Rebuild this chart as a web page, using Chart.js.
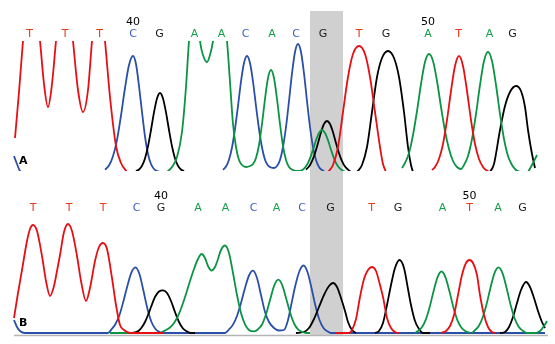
<!DOCTYPE html>
<html><head><meta charset="utf-8">
<script src="https://cdn.jsdelivr.net/npm/chart.js@4/dist/chart.umd.min.js"></script>
<style>
html,body{margin:0;padding:0;background:#fff;}
#wrap{position:relative;width:555px;height:344px;overflow:hidden;background:#fff;}
canvas{position:absolute;left:0;}
#cA{top:0;} #cB{top:175px;}
</style></head><body>
<div id="wrap"><canvas id="cA" width="555" height="175"></canvas><canvas id="cB" width="555" height="169"></canvas></div>
<script>
// ---- data ----
const baseCalls = ['T','T','T','C','G','A','A','C','A','C','G','T','G','A','T','A','G'];
const basePosA = [29.5,65,99.5,133,159.5,194.5,221.5,245.5,272,296,323,359,386,428,458.5,489.5,512.5];
const basePosB = [33,69,103,136.7,161,198,225.5,253.5,276.5,302,330.5,371.7,398,442.5,469.5,498,522.5];
const numberLabels = ['40','50'];
const numberIdxA = [3,13];
const numberIdxB = [4,14];
const highlightRange = [310,343];
const panelNames = ['A','B'];

// panel A traces (x, signal); null = break
const redA = [[15,34],[19,80],[23,131],[27,172],[31,188],[35,172],[40,131],[44,88],[48,65],[52,88],[56,131],[60,170],[64.5,185],[69,170],[73,131],[78,82],[83,60],[88,82],[92,131],[95,162],[98.5,175],[102,160],[105,131],[110,75],[116,26],[121,9],[127,0],null,
[328,0],[333,7],[338,25],[343,60],[348,95],[353,118],[359,126],[365,118],[370,95],[375,60],[380,25],[383,8],[386,0],null,
[432,2],[435,5],[439,13],[443,28],[447,52],[451,81],[455,106],[459,116],[463,106],[467,81],[471,52],[475,28],[479,13],[483,5],[486,2],[489,0]];
const blueA = [[14,16],[17,8],[20,1],[22,0],null,
[105,2.3],[109,6.5],[113,15.7],[117,32],[121,56.5],[125,84],[129,107],[133,116],[136,108],[139,86],[142,60],[145,35.5],[148,18],[151,8],[154,3],[157,1],[160,0],null,
[223,2.2],[226,5.5],[229,12.3],[232,24.5],[235,43],[238,66],[241,90.5],[244,109],[247,116],[250,109],[253,90.5],[256,66],[259,43],[262,24.5],[265,12.3],[268,6.5],[271,4.5],[274,4],[277,6],[280,12],[283,25],[286,45],[289,71],[292,98.6],[295,120],[298,128],[301,120],[304,98.6],[307,71],[310,45],[313,25],[316,12],[319,5],[322,2],[325,0]];
const blackA = [[136,0.9],[139,2.5],[142,6.3],[145,13.6],[148,25.7],[151,42],[154,59.6],[157,73.6],[160,79],[163,73.6],[166,59.6],[169,42],[172,25.7],[175,13.6],[178,6.3],[181,2.5],[184,0.9],null,
[306,2.4],[309,5.4],[312,10.8],[315,18.8],[318,29],[321,39.8],[324,48],[327,51],[330,48],[333,39.8],[336,29],[339,18.8],[342,10.8],[345,5.4],[348,2.4],[351,0],null,
[357,0],[362,7],[367,25],[372,60],[377,95],[382,114],[388,121],[394,114],[399,95],[404,60],[408,25],[411,7],[413,0],null,
[490,0],[494,8],[500,42],[505,66],[510,80],[516,86],[521,81],[525,65],[528,42],[532,18],[535,4]];
const greenA = [[167,0],[172,5],[177,15],[182,40],[186,85],[189,131],[192,160],[195,168],[198,155],[200,131],[203,117],[207,110],[210,117],[213,131],[216,158],[220,168],[224,152],[227,131],[230,90],[233,48],[236,25],[239,12],[242,7],[246,5],[250,6],[253,8],[256,14],[259,27],[262,48],[265,73],[268,94],[271,102],[274,94],[277,73],[280,48],[283,26],[286,12],[289,5],[293,2],[298,1],[301,1.3],[304,3.3],[307,7.2],[310,13.7],[313,22.3],[316,31.7],[319,39],[322,42],[325,39],[328,31.7],[331,22.3],[334,13.7],[337,7.2],[340,3.3],[343,1.3],[346,0],null,
[402,4],[405,9],[409,19],[413,37],[417,61],[421,88],[425,110],[429,118],[433,111],[437,91],[441,65],[445,41],[449,23],[453,11],[457,5],[461,3],[464,7],[468,16],[472,33],[476,58],[480,87],[484,111],[488,120],[492,111],[496,87],[500,58],[504,33],[508,16],[512,7],[516,2],[520,0],null,
[528,0],[532,7],[537,17]];

// panel B traces
const redB = [[14,15],[18,40],[22,63],[27,92],[30,104],[33,108],[37,102],[42,77],[46,52],[50,37],[54,47],[57,62],[60,78],[64,101],[68,109],[72,102],[77,77],[81,52],[86,32],[90,45],[95,72],[99,86],[103,90],[107,84],[112,55],[116,28],[120,8],[124,3],[130,0],[163,0],null,
[335,0],[349,0],[352,3],[356,14],[360,36],[364,54],[368,63],[372,66],[376,62],[380,48],[383,36],[387,15],[391,5],[395,1],[399,0],null,
[441,0],[446,2],[450,7],[454,18],[458,38],[462,58],[466,70],[469.5,73],[473,70],[477,58],[480,38],[484,18],[488,6],[492,1],[496,0]];
const blueB = [[14,13],[17,6],[20,2],[25,0],[108,0],[111.5,3.7],[115.5,9],[119.5,18],[123.5,32],[127.5,47.6],[131.5,60.6],[135.5,65.6],[139.5,58.7],[143.5,42],[147.5,24],[151.5,11],[155.5,4],[159.5,1],[163,0],
[225,0],[229,3.5],[233,8.4],[237,17],[241,30],[245,45],[249,57.5],[253,62.3],[257,55],[261,38],[265,21],[269,11],[274,5],[279,2.5],[284,3],[288,13],[291,27],[295,46],[299.5,62],[303.5,67.5],[307.5,61],[311.5,45],[315.5,27],[319.5,13],[323.5,5],[327.5,1.6],[331,0],[545,0]];
const blackB = [[132,0],[136,0.9],[139,2.5],[142,6],[145,11],[148,18],[151,26],[155,36],[159,41.5],[163,42.6],[167,40],[171,32],[175,21],[179,11],[183,4.5],[187,1.5],[191,0],[195,0],null,
[296,0],[304,1],[309,5],[314,14],[319,26],[324,38],[329,47],[333,50],[337,46],[341,35],[345,22],[348,11],[352,3],[356,0],null,
[375,0],[379,2],[383,10],[387,28],[391,48],[395,65],[399.5,73],[404,65],[408,44],[411,28],[415,12],[419,4],[423,0],[430,0],null,
[500,0],[505,1],[509,6],[513,16],[517,30],[521,43],[526,51],[530,46],[534,35],[538,22],[542,11],[545,5]];
const greenB = [[110,0],[131,0],null,
[160,0],[166,3],[170,5.5],[174,10],[178,17],[182,27],[186,39],[190,52],[194,64],[198,74],[201.5,79],[205,75],[208,67],[211.5,62.5],[215,66],[218,74],[221,83],[225,87.5],[229,80],[233,60],[237,38],[241,20],[245,8.7],[249,3],[254,1.6],[258.3,4],[262.3,9],[266.3,19.7],[270.3,34],[274.3,47.7],[278.3,53.3],[282.3,47.7],[286.3,34],[290.3,19.7],[294.3,9],[298.3,3.4],[302.3,1],[306,0],[310,0],null,
[415,0],[417.5,1.8],[421.5,5.2],[425.5,12.7],[429.5,25.3],[433.5,41.5],[437.5,55.7],[441.5,61.5],[445.5,55.7],[449.5,41.5],[453.5,25.3],[457.5,12.7],[461.5,5.2],[465.5,1.8],[470,0],null,
[472,0],[474.5,2.4],[478.5,6.5],[482.5,15],[486.5,28.5],[490.5,45.3],[494.5,59.8],[498.5,65.6],[502.5,59.8],[506.5,45.3],[510.5,28.5],[514.5,15],[518.5,6.5],[522.5,2.4],[527,0],[536,0],[540,2],[544,7],[547,12]];

// ---- styles ----
const traceColors = {T:'#e60f14', C:'#2a4fa8', G:'#000000', A:'#0b9443'};
const labelColors = {T:'#ec3a1c', C:'#3b5fc6', G:'#1a1a1a', A:'#14a04a'};
const LABEL_FONT = '11px "DejaVu Sans", Verdana, sans-serif';

function toPts(arr){
  const out=[]; let lastX=0;
  arr.forEach(p=>{ if(p===null){ out.push({x:lastX+0.01,y:null}); } else { out.push({x:p[0],y:p[1]}); lastX=p[0]; } });
  return out;
}
function ds(arr, base, order){
  return {data:toPts(arr), borderColor:traceColors[base], borderWidth:1.8, pointRadius:0,
    cubicInterpolationMode:'monotone', spanGaps:false, fill:false, order:order, clip:0};
}

function decor(opts){
  return {
    id:'decor'+opts.name,
    beforeDatasetsDraw(chart){
      const {ctx, chartArea, scales:{x}} = chart;
      ctx.save();
      const x0=x.getPixelForValue(highlightRange[0]), x1=x.getPixelForValue(highlightRange[1]);
      ctx.fillStyle='#d0d0d0';
      const bb = opts.bandBottom==null ? chart.height : chartArea.bottom;
      ctx.fillRect(x0, opts.bandTop, x1-x0, bb-opts.bandTop);
      if(opts.axisLine){
        ctx.strokeStyle='#b4b4b4'; ctx.lineWidth=1.5;
        ctx.beginPath();
        ctx.moveTo(x.getPixelForValue(14), chartArea.bottom-0.5);
        ctx.lineTo(x.getPixelForValue(548), chartArea.bottom-0.5);
        ctx.stroke();
      }
      ctx.restore();
    },
    afterDatasetsDraw(chart){
      const {ctx, scales:{x}} = chart;
      ctx.save();
      ctx.font=LABEL_FONT; ctx.textAlign='center'; ctx.textBaseline='middle';
      baseCalls.forEach((b,i)=>{
        ctx.fillStyle=labelColors[b];
        ctx.fillText(b, x.getPixelForValue(opts.pos[i]), opts.letterY);
      });
      ctx.fillStyle='#000';
      numberLabels.forEach((n,k)=>{
        ctx.fillText(n, x.getPixelForValue(opts.pos[opts.numIdx[k]]), opts.numY);
      });
      ctx.font='bold 11px "DejaVu Sans", Verdana, sans-serif';
      ctx.textAlign='left';
      ctx.fillText(opts.name, 19, opts.nameY);
      ctx.restore();
    }
  };
}

function makeChart(id, sets, yMin, yMax, pad, plug){
  return new Chart(document.getElementById(id), {
    type:'line',
    data:{datasets:sets},
    options:{
      responsive:false, animation:false, devicePixelRatio:1,
      layout:{padding:pad},
      plugins:{legend:{display:false}, tooltip:{enabled:false}},
      events:[],
      scales:{
        x:{type:'linear', min:0, max:555, display:false},
        y:{min:yMin, max:yMax, display:false}
      }
    },
    plugins:[plug]
  });
}

makeChart('cA', [ds(redA,'T',1), ds(greenA,'A',2), ds(blackA,'G',3), ds(blueA,'C',4)],
  1, 131, {top:41, bottom:4, left:0, right:0},
  decor({name:panelNames[0], pos:basePosA, numIdx:numberIdxA, letterY:34, numY:22.5, nameY:161, bandTop:11, bandBottom:null, axisLine:false}));

makeChart('cB', [ds(redB,'T',1), ds(greenB,'A',2), ds(blackB,'G',3), ds(blueB,'C',4)],
  -3, 120, {top:38, bottom:8, left:0, right:0},
  decor({name:panelNames[1], pos:basePosB, numIdx:numberIdxB, letterY:33, numY:21, nameY:148, bandTop:0, bandBottom:'area', axisLine:true}));
</script>
</body></html>
